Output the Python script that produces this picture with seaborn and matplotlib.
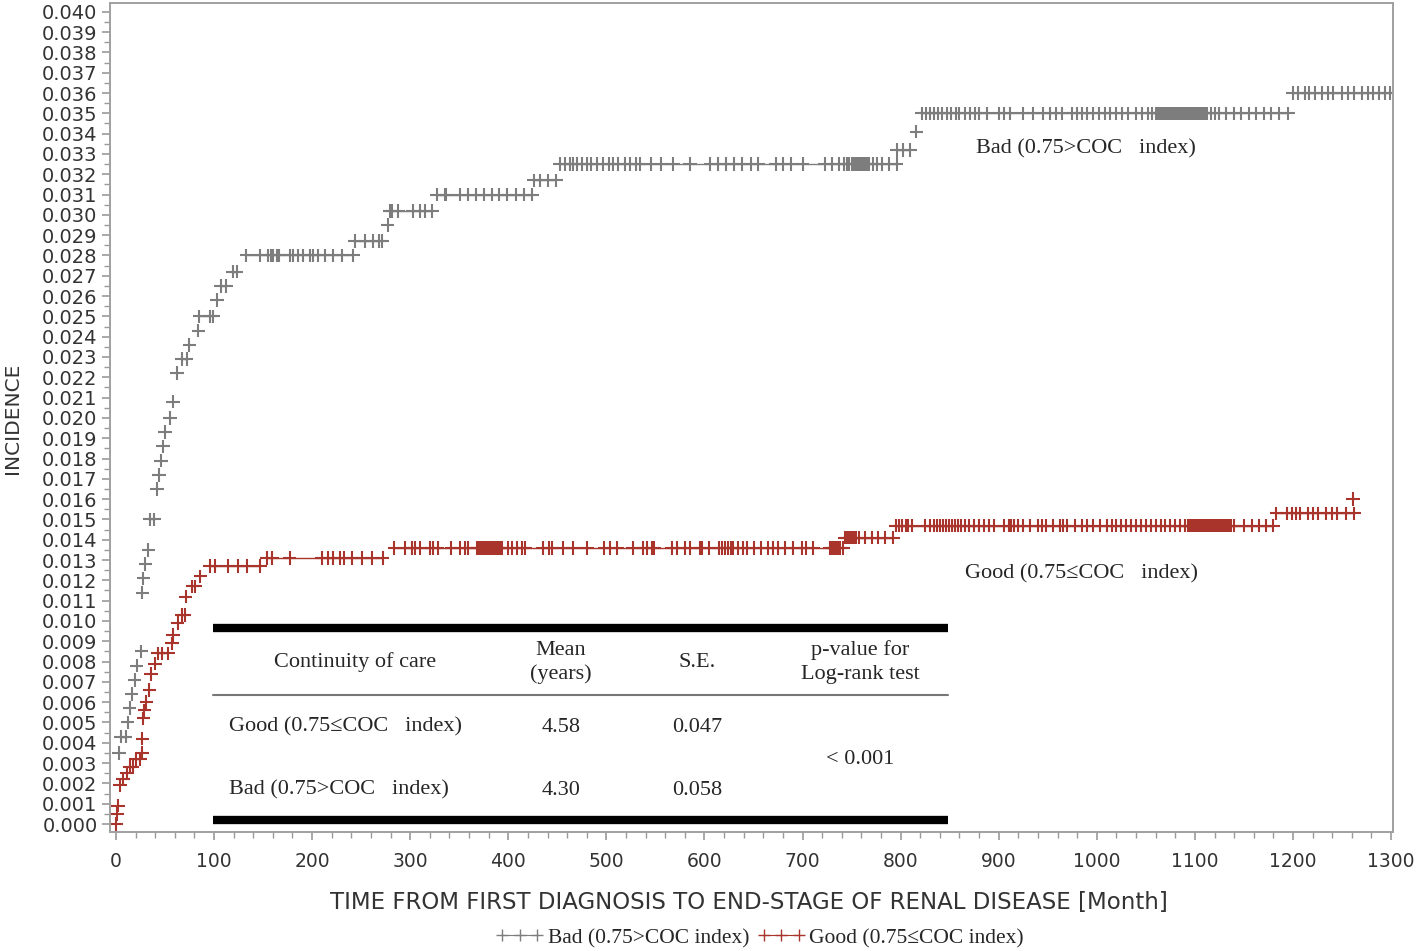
import pandas as pd
import matplotlib.pyplot as plt
import seaborn as sns
from matplotlib.lines import Line2D
from matplotlib.ticker import MultipleLocator, FormatStrFormatter

# Bad (0.75>COC index): incidence level of each step and censor times on it
bad_levels = [0.0035, 0.0043, 0.0050, 0.0057, 0.0064, 0.0071, 0.0078, 0.0085,
              0.0114, 0.0121, 0.0128, 0.0135, 0.0150, 0.0165, 0.0172, 0.0179,
              0.0186, 0.0193, 0.0200, 0.0208, 0.0222, 0.0229, 0.0236, 0.0243,
              0.0250, 0.0258, 0.0265, 0.0272, 0.0280, 0.0287, 0.0295, 0.0302,
              0.0310, 0.0317, 0.0325, 0.0332, 0.0341, 0.0350, 0.0360]
bad_times = [
    [3], [5, 10], [12], [14], [16], [19], [21], [26],
    [27], [28], [30], [33], [35, 39], [42], [44], [46],
    [48], [50], [55], [58], [62], [67, 72], [75], [84],
    [85, 96, 99], [103], [107, 112], [119, 123],
    [133, 147, 155, 158, 160, 164, 166, 177, 181, 186, 191, 198, 201, 206, 213, 221, 230, 242],
    [244, 254, 262, 268, 271],
    [277],
    [279, 281, 288, 303, 310, 315, 322],
    [327, 335, 337, 351, 359, 367, 375, 383, 391, 399, 408, 416, 424],
    [426, 432, 440, 449],
    [453, 458, 463, 466, 470, 475, 480, 484, 490, 497, 503, 507, 512, 519, 524, 530, 534,
     545, 556, 568, 585, 606, 614, 622, 630, 638, 647, 655, 673, 680, 688, 700,
     723, 730, 737, 742, 745, 747, 750, 752, 754, 756, 758, 760, 762, 764, 766, 768,
     772, 776, 781, 788, 796],
    [796, 802, 810],
    [816],
    [822, 826, 830, 834, 838, 842, 847, 851, 856, 860, 866, 871, 876, 880, 888, 900, 905,
     912, 925, 935, 945, 952, 958, 965, 975, 980, 985, 990, 996, 1002, 1008, 1013, 1020,
     1026, 1032, 1040, 1046, 1052, 1056, 1060, 1062, 1064, 1066, 1068, 1070, 1072, 1074,
     1076, 1078, 1080, 1082, 1084, 1086, 1088, 1090, 1092, 1094, 1096, 1098, 1100, 1102,
     1104, 1106, 1108, 1110, 1112, 1116, 1120, 1125, 1132, 1140, 1147, 1155, 1162,
     1170, 1178, 1186, 1195],
    [1200, 1205, 1212, 1216, 1222, 1230, 1236, 1241, 1250, 1256, 1262, 1270, 1276, 1282,
     1288, 1294, 1299],
]

# Good (0.75<=COC index)
good_levels = [0.0000, 0.0005, 0.0009, 0.0019, 0.0022, 0.0025, 0.0028, 0.0032,
               0.0035, 0.0042, 0.0052, 0.0056, 0.0060, 0.0066, 0.0074, 0.0079,
               0.0084, 0.0089, 0.0093, 0.0099, 0.0103, 0.0112, 0.0117, 0.0122,
               0.0127, 0.0131, 0.0136, 0.0141, 0.0147, 0.0153, 0.0160]
good_times = [
    [0], [1], [2], [4], [7], [11], [14, 17], [20, 25],
    [27], [27], [28], [29], [31], [34], [36], [40],
    [43, 47, 53], [57], [58], [63], [67, 70], [71], [78, 81], [86],
    [96, 101, 114, 124, 134, 147],
    [154, 159, 177, 210, 216, 221, 228, 233, 241, 251, 261, 272],
    [284, 295, 302, 305, 310, 320, 323, 328, 342, 351, 356, 359, 368, 370, 372, 374, 376,
     378, 380, 382, 384, 386, 388, 390, 392, 394, 400, 404, 409, 414, 417, 435, 442, 445,
     456, 466, 480, 498, 504, 511, 527, 537, 541, 547, 549, 567, 572, 580, 585, 595, 597,
     605, 615, 618, 621, 624, 627, 629, 634, 639, 643, 651, 658, 665, 670, 675, 682, 690,
     699, 704, 711, 728, 730, 732, 734, 736, 738, 741],
    [743, 745, 747, 749, 751, 753, 755, 758, 764, 771, 777, 784, 792],
    [795, 798, 801, 805, 808, 812, 825, 830, 834, 837, 840, 843, 846, 849, 852, 855, 858,
     862, 866, 870, 875, 880, 885, 890, 895, 905, 910, 913, 916, 920, 925, 932, 940, 944,
     948, 955, 962, 966, 970, 978, 985, 990, 996, 1003, 1010, 1015, 1020, 1025, 1030, 1035,
     1040, 1045, 1050, 1055, 1060, 1065, 1070, 1075, 1080, 1085, 1090, 1093, 1095, 1097,
     1099, 1101, 1103, 1105, 1107, 1109, 1111, 1113, 1115, 1117, 1119, 1121, 1123, 1125,
     1127, 1129, 1131, 1133, 1135, 1137, 1140, 1150, 1158, 1165, 1172, 1180],
    [1183, 1194, 1199, 1203, 1207, 1215, 1220, 1226, 1234, 1240, 1245, 1254, 1262],
    [1261],
]

bad_name = "Bad (0.75>COC index)"
good_name = "Good (0.75\u2264COC index)"

table_header = ["Continuity of care", "Mean\n(years)", "S.E.", "p-value for\nLog-rank test"]
table_groups = ["Good (0.75\u2264COC   index)", "Bad (0.75>COC   index)"]
table_mean = ["4.58", "4.30"]
table_se = ["0.047", "0.058"]
table_p = "< 0.001"

gray = "#7d7d7d"
red = "#a8342b"
serif = "Liberation Serif"


def long_table(levels, times, name):
    rows = []
    for lev, ts in zip(levels, times):
        for t in ts:
            rows.append({"time": t, "incidence": lev, "group": name})
    return pd.DataFrame(rows)


df = pd.concat([long_table(bad_levels, bad_times, bad_name),
                long_table(good_levels, good_times, good_name)], ignore_index=True)

sns.set_style("ticks")
plt.rcParams['font.family'] = ['DejaVu Sans']

fig = plt.figure(figsize=(14.18, 9.51), dpi=100)
ax = fig.add_axes([0.0776, 0.125, 0.9048, 0.872])

# horizontal segments of each step
for levels, times, col in [(bad_levels, bad_times, gray), (good_levels, good_times, red)]:
    for lev, ts in zip(levels, times):
        if len(ts) > 1:
            ax.hlines(lev, min(ts), max(ts), color=col, linewidth=1.0, zorder=1)

sns.scatterplot(data=df, x="time", y="incidence", hue="group",
                palette={bad_name: gray, good_name: red},
                marker="+", s=95, linewidth=1.5, legend=False, ax=ax, zorder=2)

ax.set_xlim(-6, 1302)
ax.set_ylim(-0.0004, 0.04044)
ax.xaxis.set_major_locator(MultipleLocator(100))
ax.xaxis.set_minor_locator(MultipleLocator(20))
ax.yaxis.set_major_locator(MultipleLocator(0.001))
ax.yaxis.set_minor_locator(MultipleLocator(0.0005))
ax.yaxis.set_major_formatter(FormatStrFormatter("%.3f"))
ax.tick_params(axis="both", which="major", labelsize=13.5, labelcolor="#333333",
               color="#999999", length=6, width=1.2)
ax.tick_params(axis="y", which="major", labelsize=14)
ax.tick_params(axis="both", which="minor", color="#999999", length=4, width=1.0)
ax.tick_params(axis="x", pad=8)
ax.tick_params(axis="y", pad=3)
for sp in ax.spines.values():
    sp.set_color("#a0a0a0")
    sp.set_linewidth(1.4)
ax.set_xlabel("")
ax.set_ylabel("")

fig.text(0.528, 0.0515, "TIME FROM FIRST DIAGNOSIS TO END-STAGE OF RENAL DISEASE [Month]",
         ha="center", va="center", fontsize=16.5, color="#333333")
fig.text(0.0085, 0.5605, "INCIDENCE", rotation=90, ha="center", va="center",
         fontsize=14.5, color="#333333")

# curve labels
ax.text(0.7607, 0.824, "Bad (0.75>COC   index)", transform=ax.transAxes,
        ha="center", va="center", fontsize=16, family=serif)
ax.text(0.757, 0.311, "Good (0.75\u2264COC   index)", transform=ax.transAxes,
        ha="center", va="center", fontsize=16, family=serif)

# inset table
tr = ax.transAxes
x0, x1 = 0.0803, 0.653
ax.plot([x0, x1], [0.246, 0.246], color="black", linewidth=6, transform=tr, solid_capstyle="butt")
ax.plot([x0, x1], [0.0145, 0.0145], color="black", linewidth=6, transform=tr, solid_capstyle="butt")
ax.plot([x0, x1], [0.1653, 0.1653], color="#777777", linewidth=1.5, transform=tr)
col_x = [0.191, 0.3515, 0.4575, 0.5846]
for cx, txt in zip(col_x, table_header):
    ax.text(cx, 0.205, txt, transform=tr, ha="center", va="center", fontsize=16,
            family=serif, linespacing=1.3)
for ry, g, m, se in zip([0.1267, 0.0507], table_groups, table_mean, table_se):
    ax.text(0.0928, ry, g, transform=tr, ha="left", va="center", fontsize=16, family=serif)
    ax.text(col_x[1], ry, m, transform=tr, ha="center", va="center", fontsize=16, family=serif)
    ax.text(col_x[2], ry, se, transform=tr, ha="center", va="center", fontsize=16, family=serif)
ax.text(col_x[3], 0.088, table_p, transform=tr, ha="center", va="center", fontsize=16, family=serif)

# legend
handles = [Line2D([], [], color=gray, marker="+", markersize=8, linewidth=0.8),
           Line2D([], [], color=red, marker="+", markersize=8, linewidth=0.8)]
fig.legend(handles, [bad_name, good_name], loc="center", bbox_to_anchor=(0.536, 0.0137),
           ncol=2, frameon=False, numpoints=3, handlelength=2.2, handletextpad=0.2,
           columnspacing=0.4, prop={"family": serif, "size": 15.5})

fig.savefig("out.png", dpi=100)
